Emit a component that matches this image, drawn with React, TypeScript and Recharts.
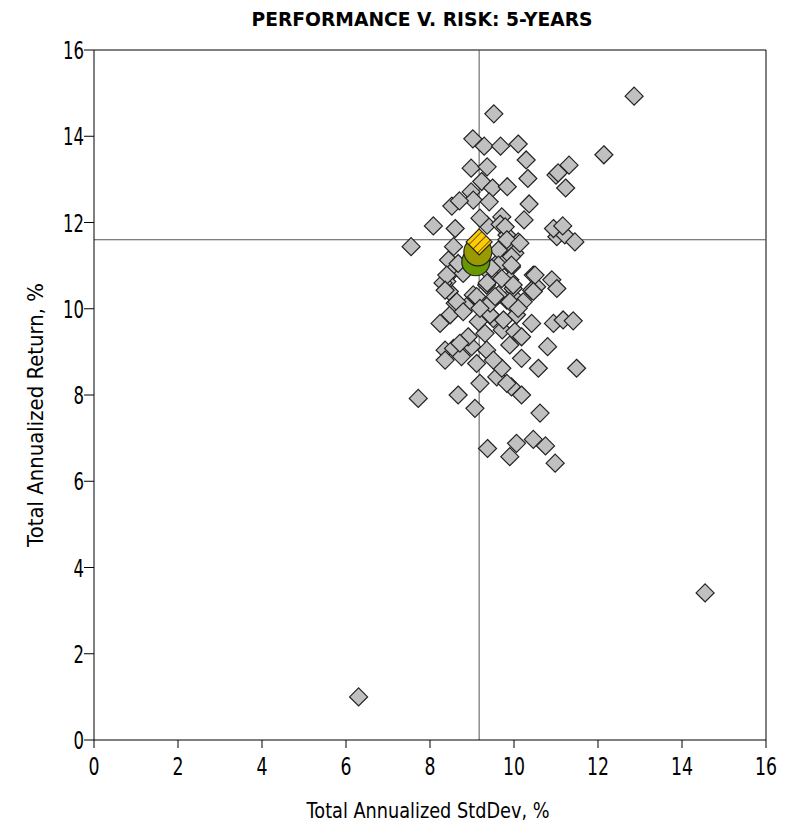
import {
  ScatterChart,
  Scatter,
  XAxis,
  YAxis,
  ReferenceLine,
} from "recharts";

const chartTitle = "PERFORMANCE V. RISK: 5-YEARS";
const xAxisTitle = "Total Annualized StdDev, %";
const yAxisTitle = "Total Annualized Return, %";
const xTicks = [0, 2, 4, 6, 8, 10, 12, 14, 16];
const yTicks = [0, 2, 4, 6, 8, 10, 12, 14, 16];

// peer group funds: annualized std dev / annualized return
const peerStdDev = [
  9.02, 9.29, 9.68, 10.1, 10.29, 11.31, 11.0, 11.05, 11.23, 8.98, 9.36, 10.33,
  9.23, 9.49, 9.84, 8.98, 9.03, 9.41, 8.52, 8.7, 10.36, 9.71, 8.08, 8.6, 9.36,
  10.24, 7.55, 8.56, 9.19, 9.83, 10.1, 11.02, 11.21, 10.94, 11.45, 11.16, 8.44,
  9.67, 9.85, 10.02, 9.67, 8.48, 10.46, 10.9, 9.43, 9.94, 8.95, 8.24, 8.48,
  8.46, 8.6, 8.36, 8.56, 8.75, 8.36, 8.99, 9.19, 9.07, 8.67, 7.72, 9.59, 9.71,
  9.11, 9.35, 9.51, 9.9, 10.18, 10.58, 10.8, 11.49, 9.94, 10.18, 9.83, 10.62,
  9.37, 10.06, 10.46, 10.75, 9.9, 10.98, 10.42, 10.94, 11.17, 11.41, 9.72,
  9.31, 8.91, 8.71, 10.02, 10.18, 9.51, 9.15, 9.75, 10.06, 9.43, 9.19, 9.43,
  9.83, 10.06, 10.22, 9.03, 8.87, 9.63, 9.98, 9.35, 8.4, 10.54, 11.02, 10.42,
  12.14, 9.52, 12.86, 14.55, 6.3, 8.31, 8.79, 9.9, 9.36, 9.79, 9.83, 10.14,
  9.63, 9.94, 9.63, 9.94, 8.67, 9.47, 10.5, 8.4, 9.71, 9.98, 10.46, 8.36, 8.64,
  9.11, 9.55, 9.9, 10.1, 8.79, 9.19,
];
const peerReturn = [
  13.94, 13.77, 13.77, 13.82, 13.45, 13.33, 13.1, 13.15, 12.8, 13.26, 13.29,
  13.02, 12.95, 12.8, 12.83, 12.71, 12.52, 12.48, 12.38, 12.5, 12.43, 12.13,
  11.92, 11.86, 11.94, 12.06, 11.44, 11.44, 12.1, 11.71, 11.55, 11.67, 11.71,
  11.86, 11.55, 11.92, 11.13, 11.96, 11.44, 11.29, 11.13, 10.82, 10.78, 10.67,
  10.82, 10.97, 11.13, 9.66, 9.86, 10.4, 10.13, 9.04, 9.08, 8.89, 8.81, 9.12,
  8.27, 7.69, 8.0, 7.92, 8.42, 8.62, 8.73, 9.04, 8.81, 9.16, 8.85, 8.62, 9.12,
  8.62, 8.19, 8.0, 8.27, 7.58, 6.76, 6.88, 6.97, 6.82, 6.57, 6.42, 9.66, 9.66,
  9.74, 9.72, 9.51, 9.43, 9.35, 9.2, 9.47, 9.35, 9.77, 9.7, 9.74, 9.86, 9.86,
  10.2, 10.13, 10.2, 10.2, 10.16, 10.32, 10.05, 10.32, 10.47, 10.55, 10.63,
  10.51, 10.47, 10.43, 13.57, 14.52, 14.93, 3.41, 1.0, 10.6, 10.82, 10.67, 10.6,
  11.9, 11.6, 11.52, 11.36, 11.21, 11.01, 11.01, 11.05, 10.94, 10.78, 10.78,
  10.7, 10.55, 10.4, 10.43, 10.16, 10.28, 10.28, 10.16, 10.01, 9.93, 10.01,
];

const benchGreen = { x: 9.09, y: 11.09 };
const benchOlive = { x: 9.14, y: 11.32 };
const fund = { x: 9.17, y: 11.55 };
const medianStdDev = 9.17;
const medianReturn = 11.6;

const peers = peerStdDev.map((x, i) => ({ x, y: peerReturn[i] }));

const font = "'DejaVu Sans', sans-serif";

// the original uses a narrow face; squeeze DejaVu to the measured widths
const narrowWidth = (s: string, perChar: number) => s.length * perChar;

const XTick = (props: any) => {
  const { x, y, payload } = props;
  const s = String(payload.value);
  return (
    <text
      x={x}
      y={y + 27}
      textAnchor="middle"
      fontFamily={font}
      fontSize={25}
      fill="#000"
      textLength={narrowWidth(s, 11)}
      lengthAdjust="spacingAndGlyphs"
    >
      {s}
    </text>
  );
};

const YTick = (props: any) => {
  const { x, y, payload } = props;
  const s = String(payload.value);
  return (
    <text
      x={x}
      y={y + 9}
      textAnchor="end"
      fontFamily={font}
      fontSize={25}
      fill="#000"
      textLength={narrowWidth(s, 10.5)}
      lengthAdjust="spacingAndGlyphs"
    >
      {s}
    </text>
  );
};

const Diamond = (props: any) => {
  const { cx, cy } = props;
  const r = 9;
  return (
    <polygon
      points={`${cx},${cy - r} ${cx + r},${cy} ${cx},${cy + r} ${cx - r},${cy}`}
      fill="#c0c0c0"
      stroke="#222"
      strokeWidth={1.2}
    />
  );
};

const FundDiamond = (props: any) => {
  const { cx, cy } = props;
  const r = 13;
  return (
    <polygon
      points={`${cx},${cy - r} ${cx + r},${cy} ${cx},${cy + r} ${cx - r},${cy}`}
      fill="url(#hatch)"
      stroke="#222"
      strokeWidth={1.2}
    />
  );
};

const circleShape = (color: string) => (props: any) => (
  <circle cx={props.cx} cy={props.cy} r={14} fill={color} stroke="#222" strokeWidth={1.2} />
);

export default function App() {
  return (
    <div style={{ position: "absolute", left: 0, top: 0 }}>
      <ScatterChart
        width={788}
        height={826}
        margin={{ top: 50, right: 22, bottom: 0, left: 34 }}
      >
        <defs>
          <pattern
            id="hatch"
            width={6}
            height={6}
            patternUnits="userSpaceOnUse"
            patternTransform="rotate(45)"
          >
            <rect width={6} height={6} fill="#ffcc00" />
            <line x1={0} y1={0} x2={0} y2={6} stroke="#333" strokeWidth={1.5} />
          </pattern>
        </defs>
        <text
          x={422}
          y={26}
          textAnchor="middle"
          fontFamily={font}
          fontWeight="bold"
          fontSize={19}
          fill="#000"
          textLength={341}
          lengthAdjust="spacingAndGlyphs"
        >
          {chartTitle}
        </text>
        <text
          x={428}
          y={818}
          textAnchor="middle"
          fontFamily={font}
          fontSize={22}
          fill="#000"
          textLength={243}
          lengthAdjust="spacingAndGlyphs"
        >
          {xAxisTitle}
        </text>
        <text
          transform="translate(43,415) rotate(-90)"
          textAnchor="middle"
          fontFamily={font}
          fontSize={22}
          fill="#000"
          textLength={264}
          lengthAdjust="spacingAndGlyphs"
        >
          {yAxisTitle}
        </text>
        <XAxis
          type="number"
          dataKey="x"
          domain={[0, 16]}
          ticks={xTicks}
          height={86}
          tickSize={8}
          tickMargin={0}
          tickLine={{ stroke: "#000" }}
          axisLine={{ stroke: "#000" }}
          tick={<XTick />}
        />
        <YAxis
          type="number"
          dataKey="y"
          domain={[0, 16]}
          ticks={yTicks}
          width={60}
          tickSize={10}
          tickMargin={0}
          tickLine={{ stroke: "#000" }}
          axisLine={{ stroke: "#000" }}
          tick={<YTick />}
        />
        <ReferenceLine y={16} stroke="#000" />
        <ReferenceLine x={16} stroke="#000" />
        <ReferenceLine x={medianStdDev} stroke="#555" />
        <ReferenceLine y={medianReturn} stroke="#555" />
        <Scatter data={peers} shape={Diamond} isAnimationActive={false} />
        <Scatter data={[benchGreen]} shape={circleShape("#669900")} isAnimationActive={false} />
        <Scatter data={[benchOlive]} shape={circleShape("#999900")} isAnimationActive={false} />
        <Scatter data={[fund]} shape={FundDiamond} isAnimationActive={false} />
      </ScatterChart>
    </div>
  );
}
